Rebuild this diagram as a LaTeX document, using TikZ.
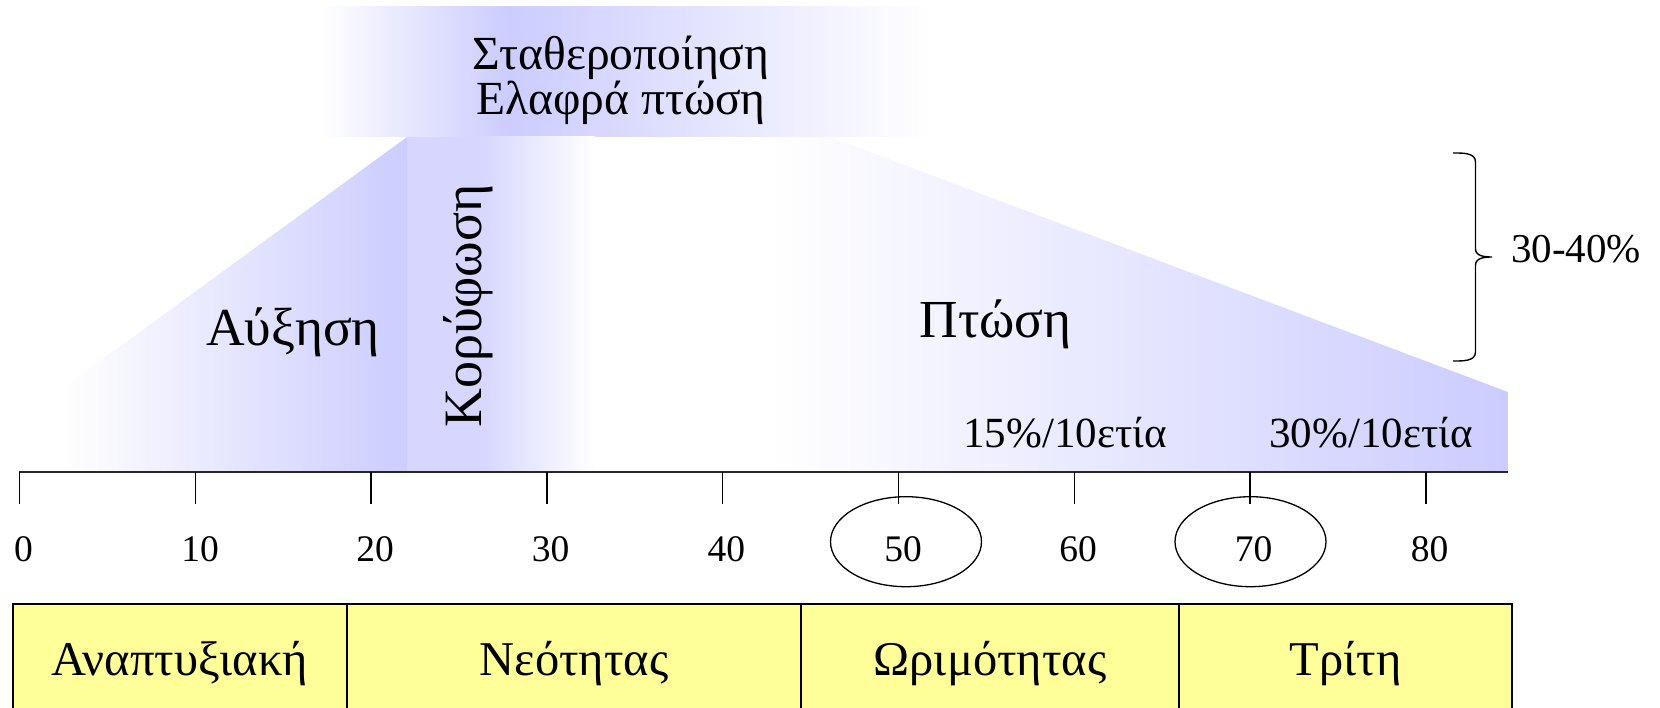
\documentclass[tikz,border=0pt]{standalone}
\usepackage{fontspec}
\setmainfont{Liberation Serif}
\usetikzlibrary{shapes.geometric,positioning}
\definecolor{lav}{RGB}{204,204,255}
\definecolor{ageyellow}{RGB}{255,255,153}

\begin{document}
\begin{tikzpicture}[x=1pt,y=-1pt,
      ticklbl/.style={anchor=base,inner sep=0pt,font=\fontsize{37.5}{40}\selectfont},
      bandtxt/.style={anchor=base,inner sep=0pt,font=\fontsize{47.5}{50}\selectfont},
      phasetxt/.style={anchor=base,inner sep=0pt,font=\fontsize{53.5}{57}\selectfont},
      ratetxt/.style={anchor=base,inner sep=0pt,font=\fontsize{43}{46}\selectfont},
      ring/.style={ellipse,draw,line width=1.3pt,minimum width=151pt,minimum height=90pt,inner sep=0pt},
      agebox/.style={rectangle,draw,line width=1.6pt,fill=ageyellow,anchor=north,minimum height=110pt,
                     inner sep=0pt,outer sep=0pt,text height=38pt,text depth=6pt,font=\fontsize{48.5}{52}\selectfont},
      tickmark/.style={line width=1.3pt},
      axisline/.style={line width=2.6pt,black!85},
      bracket/.style={line width=1.4pt}]
    \useasboundingbox (0,0) rectangle (1660,708);
    % shaded areas
    \shade[left color=white,right color=lav] (318,7) rectangle (508,137);
    \shade[left color=lav,right color=white] (508,7) rectangle (930,137);
    \begin{scope}
      \clip (407,137) -- (407,472) -- (-52,472) -- cycle;
      \shade[left color=white,right color=lav] (60,137) rectangle (407,472);
    \end{scope}
    \fill[lav!80] (407,137) rectangle (480,472);
    \shade[left color=lav!80,right color=white] (480,137) rectangle (595,472);
    \begin{scope}
      \clip (595,137) -- (830,137) -- (1508,392) -- (1508,472) -- (595,472) -- cycle;
      \shade[left color=white,right color=lav] (770,137) rectangle (1508,472);
    \end{scope}
    % texts on the curve
    \node[bandtxt] (stab)  at (621,70)  {Σταθεροποίηση};
    \node[bandtxt] (slight) at (621,115) {Ελαφρά πτώση};
    \node[phasetxt] (grow) at (293,346) {Αύξηση};
    \node[phasetxt,font=\fontsize{54}{58}\selectfont,rotate=90] (peak) at (481.7,306) {Κορύφωση};
    \node[phasetxt] (fall) at (995.5,337.3) {Πτώση};
    \node[ratetxt] (rate15) at (1065,447.7) {15\%/10ετία};
    \node[ratetxt] (rate30) at (1371,447.7) {30\%/10ετία};
    % brace
    \coordinate (brtop) at (1453,153);
    \coordinate (brtip) at (1492,257);
    \coordinate (brbot) at (1453,361);
    \draw[bracket] (brtop) to[out=0,in=90] (1475.5,162) -- (1475.5,249) to[out=-90,in=180] (brtip)
                   to[out=180,in=90] (1475.5,265) -- (1475.5,352) to[out=-90,in=0] (brbot);
    \node[ticklbl,font=\fontsize{41}{44}\selectfont] (drop) at (1576,263) {30-40\%};
    % axis
    \coordinate (axL) at (19,472);
    \coordinate (axR) at (1508,472);
    \draw[axisline] (axL) -- (axR);
    \draw[tickmark] (19.5,472) -- (19.5,504);
    \draw[tickmark] (195.3,472) -- (195.3,504);
    \draw[tickmark] (371.1,472) -- (371.1,504);
    \draw[tickmark] (546.9,472) -- (546.9,504);
    \draw[tickmark] (722.7,472) -- (722.7,504);
    \draw[tickmark] (898.5,472) -- (898.5,504);
    \draw[tickmark] (1074.3,472) -- (1074.3,504);
    \draw[tickmark] (1250.1,472) -- (1250.1,504);
    \draw[tickmark] (1425.9,472) -- (1425.9,504);
    \node[ticklbl] (l0)  at (23.5,561)   {0};
    \node[ticklbl] (l10) at (200,561)    {10};
    \node[ticklbl] (l20) at (375,561)    {20};
    \node[ticklbl] (l30) at (550.5,561)  {30};
    \node[ticklbl] (l40) at (726.3,561)  {40};
    \node[ticklbl] (l50) at (903,561)    {50};
    \node[ticklbl] (l60) at (1078,561)   {60};
    \node[ticklbl] (l70) at (1253.7,561) {70};
    \node[ticklbl] (l80) at (1429.5,561) {80};
    \node[ring] (ring50) at (906,541.7) {};
    \node[ring] (ring70) at (1250.5,541.7) {};
    % age periods
    \node[agebox,minimum width=334.3pt] (devbox) at (179.85,604) {Αναπτυξιακή};
    \node[agebox,minimum width=454pt]   (youthbox) at (574,604) {Νεότητας};
    \node[agebox,minimum width=378pt]   (maturebox) at (990,604) {Ωριμότητας};
    \node[agebox,minimum width=333pt]   (thirdbox) at (1345.5,604) {Τρίτη};
  \end{tikzpicture}
\end{document}
